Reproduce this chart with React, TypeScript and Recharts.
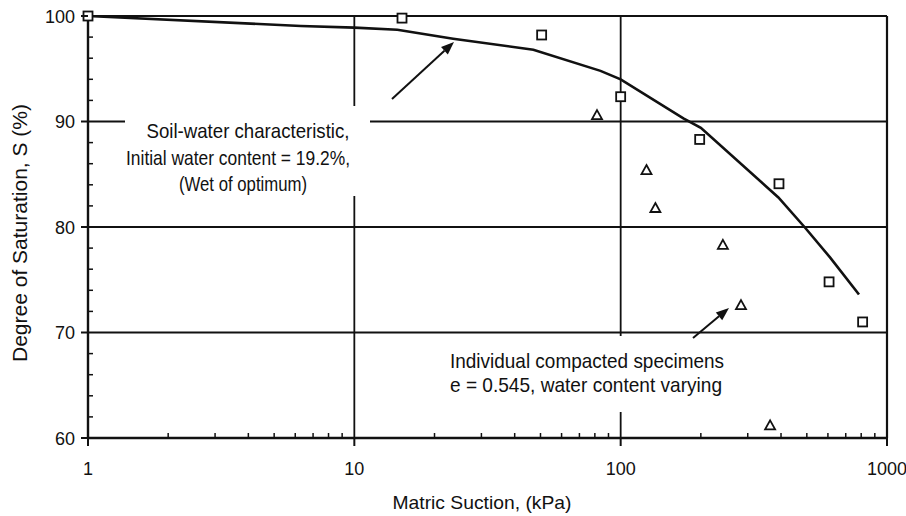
import React from 'react';
import {
  ComposedChart,
  Line,
  Scatter,
  XAxis,
  YAxis,
  CartesianGrid,
  ReferenceLine,
  Customized,
} from 'recharts';

// ---- data ----
const curveSuction = [1, 6.3, 10, 14.5, 23.5, 47, 84, 100, 172, 200, 391, 490, 612, 785];
const curveSaturation = [100, 99.05, 98.9, 98.7, 97.85, 96.8, 94.8, 94.0, 90.3, 89.4, 82.8, 80.0, 77.1, 73.6];

const squareSuction = [1, 15.1, 50.5, 100, 198, 393, 606, 810];
const squareSaturation = [100, 99.8, 98.2, 92.35, 88.3, 84.1, 74.8, 71.0];

const triangleSuction = [81.5, 125, 135, 242, 283, 364];
const triangleSaturation = [90.6, 85.4, 81.8, 78.3, 72.6, 61.2];

const xMajorTicks = [1, 10, 100, 1000];
const xMinorTicks = [2, 3, 4, 5, 6, 7, 8, 9, 20, 30, 40, 50, 60, 70, 80, 90, 200, 300, 400, 500, 600, 700, 800, 900];
const yMajorTicks = [60, 70, 80, 90, 100];
const yMinorTicks = [62, 64, 66, 68, 72, 74, 76, 78, 82, 84, 86, 88, 92, 94, 96, 98];
const xGridValues = [10, 100];
const yGridValues = [70, 80, 90];

const xTitle = 'Matric Suction, (kPa)';
const yTitle = 'Degree of Saturation, S (%)';
const note1 = ['Soil-water characteristic,', 'Initial water content = 19.2%,', '(Wet of optimum)'];
const note2 = ['Individual compacted specimens', 'e = 0.545, water content varying'];

const curveData = curveSuction.map((x, i) => ({ x, s: curveSaturation[i] }));
const squareData = squareSuction.map((x, i) => ({ x, s: squareSaturation[i] }));
const triangleData = triangleSuction.map((x, i) => ({ x, s: triangleSaturation[i] }));

const INK = '#111';
const FONT = '"Liberation Sans", Arial, Helvetica, sans-serif';

const XTick = (props: any) => {
  const { x, y, payload } = props;
  const v = payload.value;
  const major = xMajorTicks.includes(v);
  return (
    <g>
      <line x1={x} x2={x} y1={y} y2={major ? y + 8 : y - 5} stroke={INK} strokeWidth={major ? 2 : 1.5} />
      {major && (
        <text x={x} y={y + 37} textAnchor="middle" fontSize={18} fill={INK} fontFamily={FONT}>
          {v}
        </text>
      )}
    </g>
  );
};

const YTick = (props: any) => {
  const { x, y, payload } = props;
  const v = payload.value;
  const major = yMajorTicks.includes(v);
  return (
    <g>
      <line x1={x} x2={major ? x - 7 : x + 5} y1={y} y2={y} stroke={INK} strokeWidth={major ? 2 : 1.5} />
      {major && (
        <text x={x - 13} y={y + 6.5} textAnchor="end" fontSize={18} fill={INK} fontFamily={FONT}>
          {v}
        </text>
      )}
    </g>
  );
};

const SquareShape = (props: any) => {
  const { cx, cy } = props;
  if (cx == null || cy == null) return null;
  return <rect x={cx - 4.5} y={cy - 4.5} width={9} height={9} fill="#fff" stroke={INK} strokeWidth={1.8} />;
};

const TriangleShape = (props: any) => {
  const { cx, cy } = props;
  if (cx == null || cy == null) return null;
  const d = `M${cx},${cy - 5} L${cx + 5},${cy + 4} L${cx - 5},${cy + 4} Z`;
  return <path d={d} fill="#fff" stroke={INK} strokeWidth={1.8} strokeLinejoin="miter" />;
};

const Arrow = ({ x1, y1, x2, y2 }: { x1: number; y1: number; y2: number; x2: number }) => {
  const ang = Math.atan2(y2 - y1, x2 - x1);
  const len = 13;
  const w = 5;
  const bx = x2 - len * Math.cos(ang);
  const by = y2 - len * Math.sin(ang);
  const px = -Math.sin(ang) * w;
  const py = Math.cos(ang) * w;
  return (
    <g>
      <line x1={x1} y1={y1} x2={bx} y2={by} stroke={INK} strokeWidth={2} />
      <polygon points={`${x2},${y2} ${bx + px},${by + py} ${bx - px},${by - py}`} fill={INK} />
    </g>
  );
};

const Annotations = () => (
  <g fontFamily={FONT} fill={INK}>
    {/* white boxes behind the notes, interrupting the grid */}
    <rect x={125} y={106} width={245} height={90} fill="#fff" />
    <rect x={445} y={336} width={285} height={76} fill="#fff" />
    <text x={248} y={138} textAnchor="middle" fontSize={21} textLength={203} lengthAdjust="spacingAndGlyphs">
      {note1[0]}
    </text>
    <text x={238} y={165} textAnchor="middle" fontSize={21} textLength={224} lengthAdjust="spacingAndGlyphs">
      {note1[1]}
    </text>
    <text x={243} y={191} textAnchor="middle" fontSize={21} textLength={128} lengthAdjust="spacingAndGlyphs">
      {note1[2]}
    </text>
    <text x={587} y={368} textAnchor="middle" fontSize={21} textLength={274} lengthAdjust="spacingAndGlyphs">
      {note2[0]}
    </text>
    <text x={586} y={392} textAnchor="middle" fontSize={21} textLength={272} lengthAdjust="spacingAndGlyphs">
      {note2[1]}
    </text>
    <Arrow x1={392} y1={99} x2={454} y2={42} />
    <Arrow x1={693} y1={338} x2={729} y2={308} />
    <text x={482} y={509} textAnchor="middle" fontSize={19} textLength={179} lengthAdjust="spacingAndGlyphs">
      {xTitle}
    </text>
    <text
      x={27}
      y={233}
      textAnchor="middle"
      fontSize={20}
      textLength={258}
      lengthAdjust="spacingAndGlyphs"
      transform="rotate(-90, 27, 233)"
    >
      {yTitle}
    </text>
  </g>
);

export default function App() {
  return (
    <div style={{ position: 'absolute', left: 0, top: 0, width: 906, height: 516, background: '#fff' }}>
      <ComposedChart width={906} height={516} margin={{ top: 16, right: 19, left: 28, bottom: 38 }}>
        <CartesianGrid
          horizontal
          vertical
          horizontalValues={yGridValues}
          verticalValues={xGridValues}
          stroke={INK}
          strokeWidth={1.8}
          strokeDasharray=""
        />
        <XAxis
          dataKey="x"
          type="number"
          scale="log"
          domain={[1, 1000]}
          ticks={[...xMajorTicks, ...xMinorTicks].sort((a, b) => a - b)}
          interval={0}
          tickSize={0}
          tickMargin={0}
          tickLine={false}
          tick={<XTick />}
          axisLine={{ stroke: INK, strokeWidth: 2.4 }}
          height={40}
        />
        <YAxis
          type="number"
          domain={[60, 100]}
          ticks={[...yMajorTicks, ...yMinorTicks].sort((a, b) => a - b)}
          interval={0}
          tickSize={0}
          tickMargin={0}
          tickLine={false}
          tick={<YTick />}
          axisLine={{ stroke: INK, strokeWidth: 2.4 }}
          width={60}
        />
        <Customized component={<Annotations />} />
        <ReferenceLine y={100} stroke={INK} strokeWidth={2.2} ifOverflow="visible" />
        <ReferenceLine x={1000} stroke={INK} strokeWidth={2.2} ifOverflow="visible" />
        <Line
          data={curveData}
          dataKey="s"
          type="linear"
          stroke={INK}
          strokeWidth={2.6}
          dot={false}
          isAnimationActive={false}
        />
        <Scatter data={squareData} dataKey="s" shape={<SquareShape />} isAnimationActive={false} />
        <Scatter data={triangleData} dataKey="s" shape={<TriangleShape />} isAnimationActive={false} />
      </ComposedChart>
    </div>
  );
}
